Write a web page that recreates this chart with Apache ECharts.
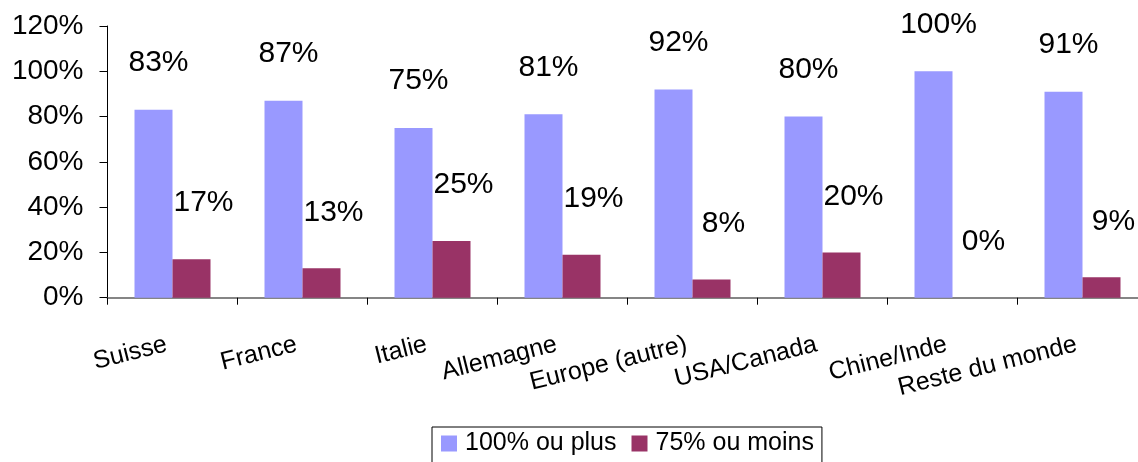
<!DOCTYPE html>
<html>
<head>
<meta charset="utf-8">
<script src="https://cdn.jsdelivr.net/npm/echarts@6/dist/echarts.min.js"></script>
<style>
html,body{margin:0;padding:0;background:#fff;}
#chart{width:1138px;height:462px;}
</style>
</head>
<body>
<div id="chart"></div>
<script>
const categories = ['Suisse', 'France', 'Italie', 'Allemagne', 'Europe (autre)', 'USA/Canada', 'Chine/Inde', 'Reste du monde'];
const seriesNames = ['100% ou plus', '75% ou moins'];
const valuesHigh = [83, 87, 75, 81, 92, 80, 100, 91];
const valuesLow = [17, 13, 25, 19, 8, 20, 0, 9];
const yTicks = { min: 0, max: 120, interval: 20 };

const FONT = '"Liberation Sans", Arial, sans-serif';
const chart = echarts.init(document.getElementById('chart'), null, { renderer: 'canvas' });
chart.setOption({
  animation: false,
  backgroundColor: '#ffffff',
  textStyle: { fontFamily: FONT, color: '#000' },
  grid: { left: 107.5, width: 1040, top: 26, bottom: 164.3, containLabel: false, outerBoundsMode: 'none' },
  legend: {
    left: 432, top: 427,
    data: seriesNames,
    icon: 'rect',
    itemWidth: 16, itemHeight: 16, itemGap: 15,
    borderColor: '#000', borderWidth: 1,
    padding: [4, 8, 10, 9],
    textStyle: { fontSize: 25, fontFamily: FONT, color: '#000', padding: [0, 0, 0, 3] }
  },
  xAxis: {
    type: 'category',
    data: categories,
    axisLine: { lineStyle: { color: '#858585', width: 2 } },
    axisTick: { show: true, length: 7, lineStyle: { color: '#000', width: 1 } },
    axisLabel: {
      rotate: 14, margin: 45, fontSize: 25, fontFamily: FONT, color: '#000',
      interval: 0, padding: [0, 6, 0, 0]
    },
    splitLine: { show: false }
  },
  yAxis: {
    type: 'value',
    min: yTicks.min, max: yTicks.max, interval: yTicks.interval,
    axisLine: { show: true, lineStyle: { color: '#000', width: 1 } },
    axisTick: { show: true, length: 8, lineStyle: { color: '#000' } },
    axisLabel: { formatter: '{value}%', fontSize: 28, fontFamily: FONT, color: '#000', margin: 24 },
    splitLine: { show: false }
  },
  series: [
    {
      name: seriesNames[0], type: 'bar', data: valuesHigh,
      barWidth: 38, barGap: '0%',
      itemStyle: { color: '#9999FF' },
      label: { show: true, position: 'top', distance: 32, offset: [5, 0], formatter: '{c}%', fontSize: 30, fontFamily: FONT, color: '#000' }
    },
    {
      name: seriesNames[1], type: 'bar', data: valuesLow,
      barWidth: 38,
      itemStyle: { color: '#993366' },
      label: { show: true, position: 'top', distance: 41, offset: [12, 0], formatter: '{c}%', fontSize: 30, fontFamily: FONT, color: '#000' }
    }
  ]
});
</script>
</body>
</html>
